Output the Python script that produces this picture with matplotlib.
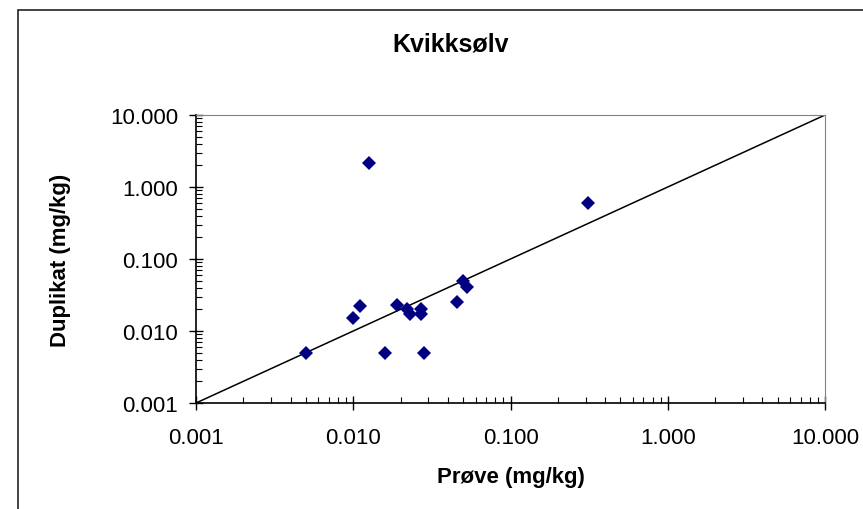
import matplotlib.pyplot as plt
from matplotlib.patches import Rectangle
from matplotlib.ticker import LogLocator, FixedFormatter, FixedLocator

plt.rcParams['font.family'] = ['Liberation Sans', 'DejaVu Sans']

# sample vs duplicate, mercury (mg/kg)
prove = [0.005, 0.010, 0.011, 0.0126, 0.016, 0.019, 0.022, 0.023, 0.027, 0.027,
         0.028, 0.046, 0.050, 0.053, 0.31]
duplikat = [0.005, 0.015, 0.022, 2.15, 0.005, 0.023, 0.020, 0.017, 0.020, 0.017,
            0.005, 0.025, 0.050, 0.041, 0.60]
line_x = [0.001, 10]
line_y = [0.001, 10]
ticks = [0.001, 0.01, 0.1, 1, 10]
tick_labels = ['0.001', '0.010', '0.100', '1.000', '10.000']

fig = plt.figure(figsize=(8.63, 5.10), dpi=100)
ax = fig.add_axes([196/863, 1 - 404/510, (825-196)/863, (404-116)/510])

# outer chart frame, cut by the image edge on right and bottom
fig.patches.append(Rectangle((18/863, -0.1), 1.2, 1.1 - 11/510, transform=fig.transFigure,
                             fill=False, edgecolor='#222222', linewidth=1.2))

ax.plot(line_x, line_y, color='black', linewidth=1.1, zorder=2)
ax.plot(prove, duplikat, linestyle='none', marker='D', markersize=7,
        color='#000080', markeredgewidth=0, zorder=3)

ax.set_xscale('log')
ax.set_yscale('log')
ax.set_xlim(0.001, 10)
ax.set_ylim(0.001, 10)

for axis in (ax.xaxis, ax.yaxis):
    axis.set_major_locator(FixedLocator(ticks))
    axis.set_major_formatter(FixedFormatter(tick_labels))
    axis.set_minor_locator(LogLocator(base=10, subs=range(2, 10)))
    axis.set_minor_formatter(FixedFormatter([]))

ax.tick_params(which='major', direction='inout', length=10, width=1, labelsize=16)
ax.tick_params(which='minor', direction='in', length=4, width=0.8)
ax.tick_params(axis='x', which='major', pad=12)
ax.tick_params(axis='y', which='major', pad=8)

ax.spines['top'].set_color('#808080')
ax.spines['right'].set_color('#808080')
ax.spines['left'].set_linewidth(1.2)
ax.spines['bottom'].set_linewidth(1.2)

fig.text(451/863, 1 - 45/510, 'Kvikksølv', fontsize=18, fontweight='bold',
         ha='center', va='center')
ax.set_xlabel('Prøve (mg/kg)', fontsize=16, fontweight='bold', labelpad=13)
ax.set_ylabel('Duplikat (mg/kg)', fontsize=16, fontweight='bold', labelpad=28)

fig.savefig('out.png', dpi=100)
